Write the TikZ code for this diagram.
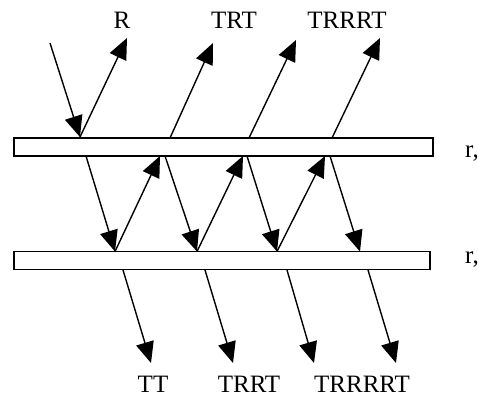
\documentclass[tikz,border=0pt]{standalone}
\usepackage{fontspec}
\setmainfont{Liberation Serif}
\usetikzlibrary{arrows.meta}
\begin{document}
\begin{tikzpicture}[x=1pt,y=-1pt,
  ray/.style={line width=1.4pt,-{Triangle[length=21pt,width=18pt]}},
  plate/.style={draw,line width=1.6pt,inner sep=0pt,rectangle},
  lbl/.style={font=\fontsize{25}{28}\selectfont,inner sep=0pt}]
\useasboundingbox (0,0) rectangle (478,397);
\node[plate,minimum width=419pt,minimum height=18pt] (top) at (223.5,147) {};
\node[plate,minimum width=416pt,minimum height=18pt] (bot) at (222,260.5) {};
% incident
\coordinate (src) at (50,43);
\coordinate (a0) at (80,137);
\draw[ray] (src) -- (a0);
% reflected up
\coordinate (R) at (127,38);
\coordinate (t1) at (170,138);
\coordinate (T1) at (213,43);
\coordinate (t2) at (249,138);
\coordinate (T2) at (296,40);
\coordinate (t3) at (332,138);
\coordinate (T3) at (380,38);
\draw[ray] (a0) -- (R);
\draw[ray] (t1) -- (T1);
\draw[ray] (t2) -- (T2);
\draw[ray] (t3) -- (T3);
% inside zigzag
\coordinate (d1) at (86,156);
\coordinate (b1) at (115,251.5);
\coordinate (u1) at (160,156);
\coordinate (d2) at (165,156);
\coordinate (b2) at (197,251.5);
\coordinate (u2) at (243,156);
\coordinate (d3) at (247,156);
\coordinate (b3) at (277,251.5);
\coordinate (u3) at (325,156);
\coordinate (d4) at (330,156);
\coordinate (b4) at (360,251.5);
\draw[ray] (d1) -- (b1);
\draw[ray] (b1) -- (u1);
\draw[ray] (d2) -- (b2);
\draw[ray] (b2) -- (u2);
\draw[ray] (d3) -- (b3);
\draw[ray] (b3) -- (u3);
\draw[ray] (d4) -- (b4);
% transmitted down
\coordinate (s1) at (123,270);
\coordinate (e1) at (151,363);
\coordinate (s2) at (205,270);
\coordinate (e2) at (233,363);
\coordinate (s3) at (287,270);
\coordinate (e3) at (314,363);
\coordinate (s4) at (368,270);
\coordinate (e4) at (396,363);
\draw[ray] (s1) -- (e1);
\draw[ray] (s2) -- (e2);
\draw[ray] (s3) -- (e3);
\draw[ray] (s4) -- (e4);
% labels
\node[lbl] (lR) at (122,20) {R};
\node[lbl] (lTRT) at (234,20) {TRT};
\node[lbl] (lTRRRT) at (347,20) {TRRRT};
\node[lbl] (lTT) at (153,384) {TT};
\node[lbl] (lTRRT) at (249,384) {TRRT};
\node[lbl] (lTRRRRT) at (362,384) {TRRRRT};
\node[lbl,anchor=west] (r1) at (465,154) {r,};
\node[lbl,anchor=west] (r2) at (465,260) {r,};
\end{tikzpicture}
\end{document}
